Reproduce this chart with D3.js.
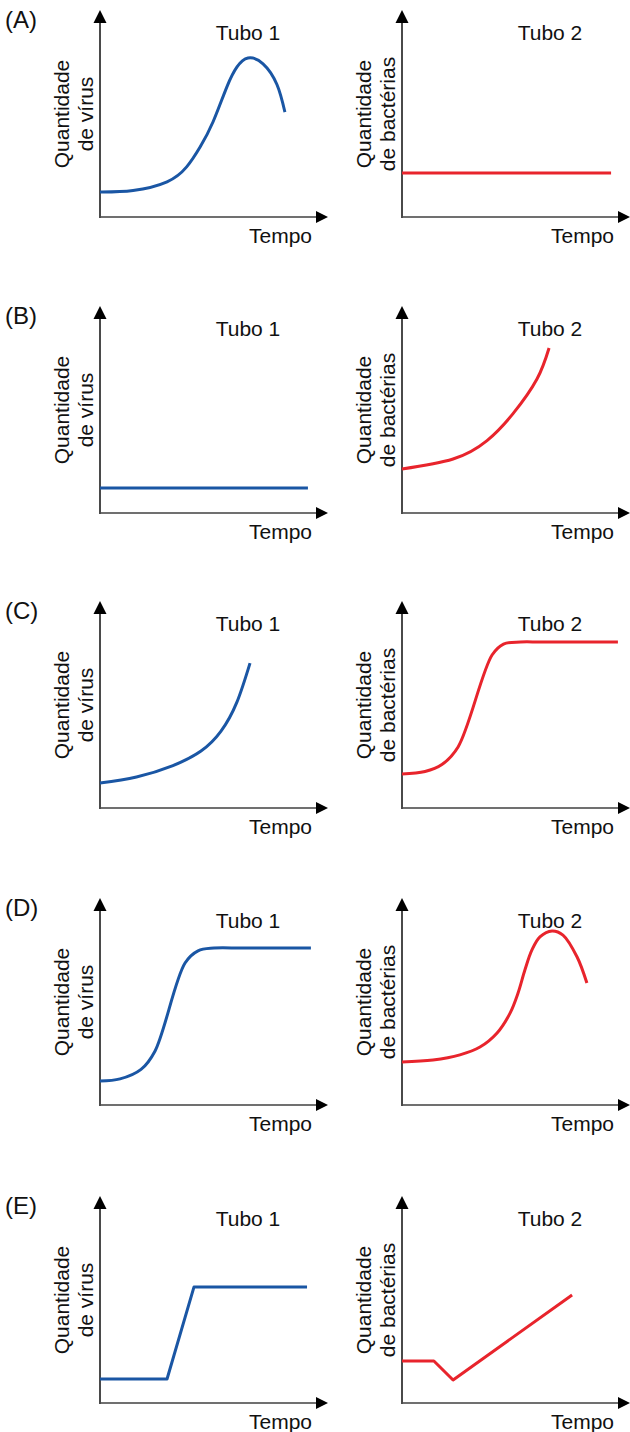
<!DOCTYPE html>
<html>
<head>
<meta charset="utf-8">
<script src="https://cdn.jsdelivr.net/npm/d3@7"></script>
<style>
  html, body { margin: 0; padding: 0; background: #fff; }
  svg { display: block; }
  text { font-family: "Liberation Sans", Arial, Helvetica, sans-serif; fill: #111; }
</style>
</head>
<body>
<svg id="chart" width="630" height="1432"></svg>
<script>
// ---------- DATA ----------
const rowLabels = ["(A)", "(B)", "(C)", "(D)", "(E)"];
const panelTitles = ["Tubo 1", "Tubo 2"];
const yLabelVirus = ["Quantidade", "de vírus"];
const yLabelBact = ["Quantidade", "de bactérias"];
const xLabel = "Tempo";

// time (0-10 units) and quantity (0-10 units)
const tempoA1 = [0, 1.45, 2.94, 3.8, 4.39, 4.96, 5.57, 6.01, 6.49, 7.15, 7.76, 8.11];
const virusA  = [1.21, 1.28, 1.7, 2.42, 3.38, 4.6, 6.3, 7.25, 7.68, 7.4, 6.4, 5.07];
const tempoA2 = [0, 9.17];
const bactA   = [2.13, 2.13];

const tempoB1 = [0, 9.12];
const virusB  = [1.21, 1.21];
const tempoB2 = [0, 2.24, 3.73, 4.87, 5.92, 6.45];
const bactB   = [2.13, 2.61, 3.5, 4.8, 6.47, 7.97];

const tempoC1 = [0, 1.6, 3.2, 4.43, 5.3, 6.0, 6.58];
const virusC  = [1.21, 1.5, 2.05, 2.75, 3.7, 5.1, 7.0];
const tempoC2 = [0, 1.01, 1.75, 2.46, 3.95, 4.45, 5.2, 6.05, 7.8, 9.47];
const bactC   = [1.64, 1.76, 2.1, 2.95, 7.39, 7.92, 8.02, 8.02, 8.02, 8.02];

const tempoD1 = [0, 0.88, 1.8, 2.41, 3.73, 4.3, 5.0, 6.2, 7.8, 9.25];
const virusD  = [1.16, 1.26, 1.72, 2.6, 6.86, 7.45, 7.58, 7.58, 7.58, 7.58];
const tempoD2 = [0, 1.36, 2.54, 3.42, 4.17, 4.74, 5.09, 5.39, 5.7, 6.05, 6.58, 7.06, 7.68, 8.11];
const bactD   = [2.08, 2.17, 2.42, 2.8, 3.48, 4.44, 5.41, 6.52, 7.49, 8.12, 8.41, 8.21, 7.15, 5.89];

const tempoE1 = [0, 2.94, 4.12, 9.08];
const virusE  = [1.16, 1.16, 5.6, 5.6];
const tempoE2 = [0, 1.4, 2.24, 7.46];
const bactE   = [2.03, 2.03, 1.11, 5.22];

// ---------- LAYOUT ----------
const rows = [
  { label: rowLabels[0], left: [tempoA1, virusA, "natural"], right: [tempoA2, bactA, "linear"] },
  { label: rowLabels[1], left: [tempoB1, virusB, "linear"], right: [tempoB2, bactB, "natural"] },
  { label: rowLabels[2], left: [tempoC1, virusC, "natural"], right: [tempoC2, bactC, "catmull"] },
  { label: rowLabels[3], left: [tempoD1, virusD, "catmull"], right: [tempoD2, bactD, "catmull"] },
  { label: rowLabels[4], left: [tempoE1, virusE, "linear"], right: [tempoE2, bactE, "linear"] }
];
const curves = {
  linear: d3.curveLinear,
  natural: d3.curveNatural,
  catmull: d3.curveCatmullRom.alpha(0.5)
};
const axisYs = [217, 513, 808, 1105, 1403];
const panelX0 = [100, 402];
const axisW = 228, axisH = 207;
const blue = "#1a56a4", red = "#e8242c";

const svg = d3.select("#chart");

rows.forEach((row, ri) => {
  const ay = axisYs[ri];
  svg.append("text")
    .attr("x", 5).attr("y", ay - 189)
    .attr("font-size", 24)
    .text(row.label);

  [row.left, row.right].forEach((panel, pi) => {
    const x0 = panelX0[pi];
    const g = svg.append("g");
    const xs = d3.scaleLinear().domain([0, 10]).range([x0, x0 + axisW]);
    const ys = d3.scaleLinear().domain([0, 10]).range([ay, ay - axisH]);

    // axes
    g.append("line")
      .attr("x1", x0).attr("y1", ay).attr("x2", x0 + axisW - 10).attr("y2", ay)
      .attr("stroke", "#707070").attr("stroke-width", 2);
    g.append("line")
      .attr("x1", x0).attr("y1", ay + 1).attr("x2", x0).attr("y2", ay - axisH + 10)
      .attr("stroke", "#4a4a4a").attr("stroke-width", 2);
    // arrowheads
    g.append("path")
      .attr("d", `M${x0 + axisW},${ay} L${x0 + axisW - 12},${ay - 6} L${x0 + axisW - 12},${ay + 6} Z`)
      .attr("fill", "#000");
    g.append("path")
      .attr("d", `M${x0},${ay - axisH} L${x0 - 6.5},${ay - axisH + 13} L${x0 + 6.5},${ay - axisH + 13} Z`)
      .attr("fill", "#000");

    // title
    g.append("text")
      .attr("x", x0 + 148).attr("y", ay - 177)
      .attr("text-anchor", "middle").attr("font-size", 21)
      .text(panelTitles[pi]);
    // x label
    g.append("text")
      .attr("x", x0 + 212).attr("y", ay + 26)
      .attr("text-anchor", "end").attr("font-size", 21)
      .text(xLabel);
    // y label
    const yl = pi === 0 ? yLabelVirus : yLabelBact;
    const cy = ay - 103;
    [[yl[0], x0 - 31], [yl[1], x0 - 7]].forEach(([t, bx]) => {
      g.append("text")
        .attr("transform", `translate(${bx},${cy}) rotate(-90)`)
        .attr("text-anchor", "middle").attr("font-size", 21)
        .text(t);
    });

    // series
    const [tx, qy, kind] = panel;
    const pts = tx.map((t, i) => [t, qy[i]]);
    const line = d3.line()
      .x(d => xs(d[0])).y(d => ys(d[1]))
      .curve(curves[kind]);
    g.append("path")
      .attr("d", line(pts))
      .attr("fill", "none")
      .attr("stroke", pi === 0 ? blue : red)
      .attr("stroke-width", 3)
      .attr("stroke-linejoin", "round");
  });
});
</script>
</body>
</html>
